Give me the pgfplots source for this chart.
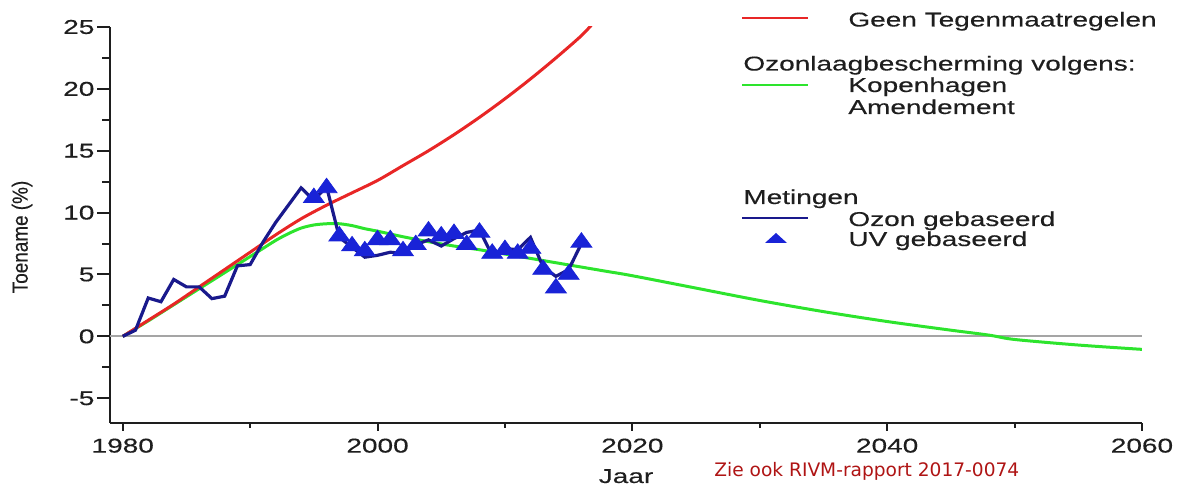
\documentclass[border=0pt]{standalone}
\usepackage{fontspec}
\setmainfont{Liberation Sans}[FakeStretch=1.4, FakeBold=0.35]
\newfontfamily\narrowfont{Liberation Sans}[FakeStretch=0.86, FakeBold=0.35]
\newfontfamily\verdanafont{DejaVu Sans}
\usepackage{pgfplots}
\pgfplotsset{compat=1.18}
\definecolor{cred}{RGB}{232,38,38}
\definecolor{cgreen}{RGB}{45,228,45}
\definecolor{cnavy}{RGB}{25,25,140}
\definecolor{cblue}{RGB}{25,35,215}
\definecolor{cgray}{RGB}{165,165,165}
\definecolor{rivm}{RGB}{175,20,20}
\definecolor{caxis}{RGB}{30,30,30}
\begin{document}
\begin{tikzpicture}
\useasboundingbox (0,0) rectangle (590pt,243.5pt);
\begin{axis}[
  at={(55pt,32pt)}, anchor=south west,
  width=516pt, height=198pt, scale only axis,
  xmin=1979, xmax=2060, ymin=-7, ymax=25,
  axis x line*=bottom, axis y line*=left,
  axis line style={line width=1pt, caxis},
  xtick={1980,2000,2020,2040,2060},
  minor xtick={1990,2010,2030,2050},
  ytick={-5,0,5,10,15,20,25},
  minor ytick={-2.5,2.5,7.5,12.5,17.5,22.5},
  tick align=outside,
  every tick/.style={line width=1pt, caxis},
  x tick style={/pgfplots/major tick length=4pt},
  minor x tick style={/pgfplots/minor tick length=2.5pt},
  y tick style={/pgfplots/major tick length=6.5pt},
  minor y tick style={/pgfplots/minor tick length=4pt},
  ticklabel style={font=\fontsize{10}{12}\selectfont, text=caxis},
  /pgf/number format/assume math mode=true,
  x tick label style={/pgf/number format/1000 sep={}},
]
\addplot[cgray, line width=1pt] coordinates {(1979,0) (2060,0)};
\addplot[cgreen, line width=1.5pt, smooth] coordinates {
(1980,0) (1982,1.25) (1984,2.55) (1986,3.85) (1988,5.15) (1990,6.45)
(1991,7.1) (1992,7.75) (1993,8.3) (1994,8.75) (1995,9.0) (1996,9.1)
(1997,9.1) (1998,8.95) (1999,8.7) (2000,8.5) (2002,8.05) (2004,7.65)
(2006,7.3) (2008,7.0) (2010,6.65) (2012,6.3) (2014,5.95) (2016,5.6)
(2018,5.25) (2020,4.9) (2025,3.9) (2030,2.9) (2035,2.0) (2040,1.2)
(2045,0.5) (2048,0.1) (2050,-0.25) (2055,-0.7) (2060,-1.05)};
\addplot[cred, line width=1.5pt, smooth] coordinates {
(1980,0) (1982,1.3) (1984,2.6) (1986,4.0) (1988,5.4) (1990,6.8)
(1992,8.2) (1994,9.5) (1996,10.6) (1998,11.6) (2000,12.6) (2002,13.8)
(2004,15.0) (2006,16.3) (2008,17.7) (2010,19.2) (2012,20.8) (2014,22.5)
(2016,24.3) (2017,25.4)};
\addplot[only marks, mark=triangle*, mark size=4.8pt,
  mark options={cblue, xscale=1.25}] coordinates {
(1995,11.2) (1996,12.0) (1997,8.1) (1998,7.3) (1999,6.9) (2000,7.8)
(2001,7.8) (2002,6.9) (2003,7.4) (2004,8.5) (2005,8.1) (2006,8.3)
(2007,7.4) (2008,8.4) (2009,6.7) (2010,7.0) (2011,6.7) (2012,7.1)
(2013,5.4) (2014,3.9) (2015,5.0) (2016,7.6)};
\addplot[cnavy, line width=1.6pt] coordinates {
(1980,0) (1981,0.5) (1982,3.1) (1983,2.8) (1984,4.6) (1985,4.0)
(1986,4.0) (1987,3.05) (1988,3.25) (1989,5.7) (1990,5.8) (1991,7.6)
(1992,9.2) (1993,10.6) (1994,12.0) (1995,11.0) (1996,12.1) (1997,8.0)
(1998,7.2) (1999,6.4) (2000,6.55) (2001,6.8) (2002,6.7) (2003,7.4)
(2004,7.8) (2005,7.3) (2006,7.9) (2007,8.4) (2008,8.6) (2009,6.55)
(2010,7.1) (2011,7.0) (2012,8.0) (2013,5.6) (2014,4.85) (2015,5.4)
(2016,7.5)};
\end{axis}
\begin{scope}[x=0.5pt, y=-0.5pt, shift={(0,243.5pt)},
  every node/.style={inner sep=0pt, text=caxis, font=\fontsize{10}{12}\selectfont}]
  \draw[cred, line width=1.2pt] (742,18) -- (808,18);
  \node[anchor=base west] at (848,26.5) {Geen Tegenmaatregelen};
  \node[anchor=base west] at (743,70.5) {Ozonlaagbescherming volgens:};
  \draw[cgreen, line width=1.2pt] (742,85) -- (808,85);
  \node[anchor=base west] at (848,92) {Kopenhagen};
  \node[anchor=base west] at (848,114) {Amendement};
  \node[anchor=base west] at (743,204) {Metingen};
  \draw[cnavy, line width=1.2pt] (742,218) -- (808,218);
  \node[anchor=base west] at (848,226) {Ozon gebaseerd};
  \fill[cblue] (765,243) -- (787,243) -- (776,233) -- cycle;
  \node[anchor=base west] at (848,246) {UV gebaseerd};
  \node[anchor=base] at (626,483) {Jaar};
  \node[rotate=90, font=\narrowfont\fontsize{11}{13}\selectfont] at (22,237) {Toename (\%)};
  \node[anchor=base west, text=rivm, font=\verdanafont\fontsize{9.3}{11}\selectfont] at (714,476.7) {Zie ook RIVM-rapport 2017-0074};
\end{scope}
\end{tikzpicture}
\end{document}
